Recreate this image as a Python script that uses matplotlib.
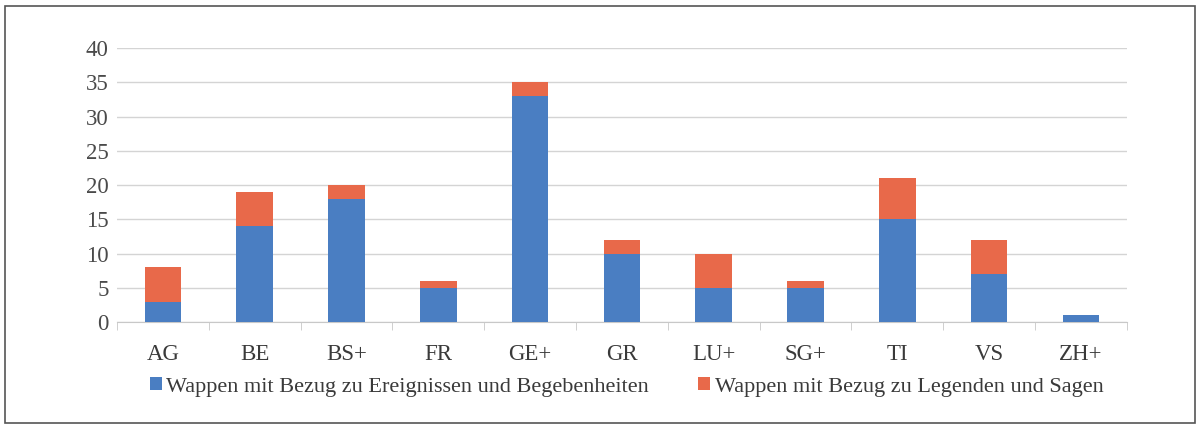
import matplotlib.pyplot as plt
from matplotlib.patches import Rectangle
import numpy as np

kantone = ["AG", "BE", "BS+", "FR", "GE+", "GR", "LU+", "SG+", "TI", "VS", "ZH+"]
ereignisse = [3, 14, 18, 5, 33, 10, 5, 5, 15, 7, 1]
legenden = [5, 5, 2, 1, 2, 2, 5, 1, 6, 5, 0]

blau = "#4a7ec2"
rot = "#e8694a"

plt.rcParams["font.family"] = ["Liberation Serif", "DejaVu Serif"]

fig = plt.figure(figsize=(12, 4.26), dpi=100)
ax = fig.add_axes([0.0975, 0.244, 0.8415, 0.643])

x = np.arange(len(kantone))
ax.bar(x, ereignisse, width=0.4, color=blau, label="Wappen mit Bezug zu Ereignissen und Begebenheiten", zorder=3)
ax.bar(x, legenden, width=0.4, bottom=ereignisse, color=rot,
       label="Wappen mit Bezug zu Legenden und Sagen", zorder=3)

ax.set_xlim(-0.5, len(kantone) - 0.5)
ax.set_ylim(0, 40)
ax.set_yticks(range(0, 41, 5))
ax.yaxis.grid(True, color="#d4d4d4", linewidth=1)
ax.set_axisbelow(True)

for side in ["top", "right", "left"]:
    ax.spines[side].set_visible(False)
ax.spines["bottom"].set_color("#c8c8c8")

ax.set_xticks(x)
ax.set_xticklabels(kantone, fontsize=16.5, color="#3a3a3a")
ax.tick_params(axis="x", length=0, pad=16)
ax.set_xticks(np.arange(-0.5, len(kantone)), minor=True)
ax.tick_params(axis="x", which="minor", length=6, color="#c8c8c8", direction="out")
ax.tick_params(axis="y", length=0, labelsize=16.5, labelcolor="#4a4a4a", pad=6)

fig.legend(loc="center", bbox_to_anchor=(0.522, 0.092), ncol=2, frameon=False,
           fontsize=16, handlelength=0.55, handleheight=0.55, handletextpad=0.2,
           columnspacing=2.2, labelcolor="#3a3a3a")

fig.patches.append(Rectangle((0.004, 0.008), 0.992, 0.978, transform=fig.transFigure,
                             fill=False, edgecolor="#555555", linewidth=1.2))

fig.savefig("out.png", dpi=100)
